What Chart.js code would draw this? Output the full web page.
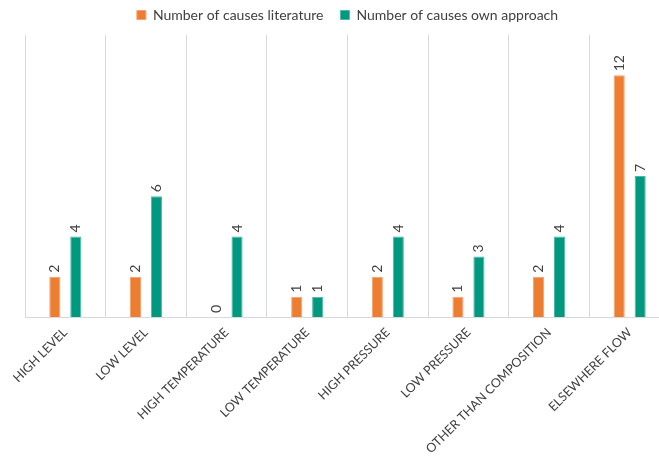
<!DOCTYPE html>
<html>
<head>
<meta charset="utf-8">
<script src="https://cdn.jsdelivr.net/npm/chart.js@4"></script>
<style>
html,body{margin:0;padding:0;background:#fff;overflow:hidden;}
#wrap{width:659px;height:464px;overflow:hidden;position:relative;}
#box{width:692px;height:464px;position:absolute;left:0;top:0;}
</style>
</head>
<body>
<div id="wrap"><div id="box"><canvas id="c" width="692" height="464"></canvas></div></div>
<script>
const categories = ["HIGH LEVEL","LOW LEVEL","HIGH TEMPERATURE","LOW TEMPERATURE","HIGH PRESSURE","LOW PRESSURE","OTHER THAN COMPOSITION","ELSEWHERE FLOW"];
const literature = [2,2,0,1,2,1,2,12];
const ownApproach = [4,6,4,1,4,3,4,7];
const seriesNames = ["Number of causes literature","Number of causes own approach"];

const FONT = "Lato, 'Open Sans', sans-serif";

const labelPlugin = {
  id: 'valueLabels',
  afterDatasetsDraw(chart) {
    const ctx = chart.ctx;
    chart.data.datasets.forEach((ds, i) => {
      const meta = chart.getDatasetMeta(i);
      meta.data.forEach((bar, j) => {
        ctx.save();
        ctx.translate(bar.x, bar.y - 4);
        ctx.rotate(-Math.PI / 2);
        ctx.font = "14px " + FONT;
        ctx.fillStyle = "#404040";
        ctx.textAlign = "left";
        ctx.textBaseline = "middle";
        ctx.fillText(String(ds.data[j]), 0, 0);
        ctx.restore();
      });
    });
  }
};

const spacerPlugin = {
  id: 'legendSpacer',
  beforeInit(chart) {
    const box = {
      position: 'top', weight: 0, fullSize: true, options: {},
      left: 0, top: 0, right: 0, bottom: 0, width: 0, height: 3,
      isHorizontal() { return true; },
      update(maxWidth) { this.width = maxWidth; this.height = 3; return { width: this.width, height: 3 }; },
      getPadding() { return { left: 0, right: 0, top: 0, bottom: 0 }; },
      draw() {}
    };
    Chart.layouts.addBox(chart, box);
  }
};

new Chart(document.getElementById('c'), {
  type: 'bar',
  data: {
    labels: categories,
    datasets: [
      { label: seriesNames[0], data: literature, backgroundColor: '#ED7D31', borderColor: '#F4A070', borderWidth: 1 },
      { label: seriesNames[1], data: ownApproach, backgroundColor: '#009980', borderColor: '#4DB8A6', borderWidth: 1 }
    ]
  },
  options: {
    responsive: false,
    animation: false,
    devicePixelRatio: 1,
    layout: { padding: { left: 25, right: 22, top: -9, bottom: 0 } },
    datasets: { bar: { categoryPercentage: 0.52, barPercentage: 0.53 } },
    plugins: {
      legend: {
        position: 'top',
        labels: { boxWidth: 9, boxHeight: 9, color: '#404040', font: { family: FONT, size: 14 }, padding: 17 },
      },
      tooltip: { enabled: false }
    },
    scales: {
      x: {
        grid: { color: '#d9d9d9', lineWidth: 1, drawTicks: false },
        border: { color: '#d9d9d9' },
        ticks: { color: '#404040', font: { family: FONT, size: 12.5 }, minRotation: 45, maxRotation: 45, padding: 8, autoSkip: false },
        afterFit(axis) { axis.height = 147; }
      },
      y: {
        display: false,
        min: 0,
        max: 14
      }
    }
  },
  plugins: [spacerPlugin, labelPlugin]
});
</script>
</body>
</html>
